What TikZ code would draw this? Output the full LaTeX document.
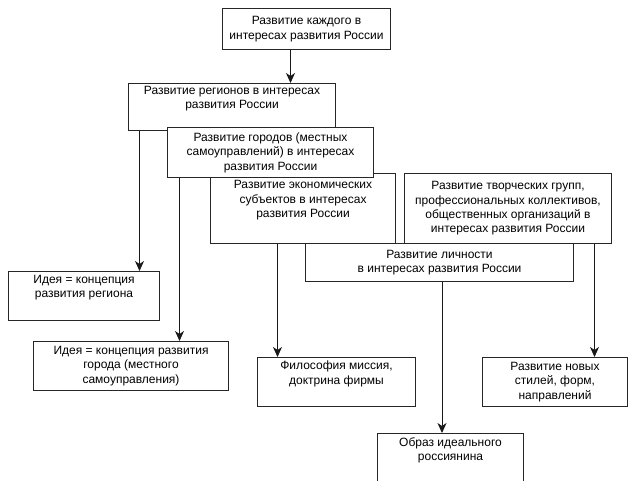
\documentclass[tikz,border=0pt]{standalone}
\usepackage{fontspec}
\setmainfont{Liberation Sans}
\usetikzlibrary{arrows.meta}

\begin{document}
\begin{tikzpicture}[x=1pt,y=-1pt,line width=1pt,
	>={Stealth[length=10pt,width=9pt,inset=3pt]},
	blok/.style={draw=black!85,fill=white,rectangle,anchor=north west,inner sep=0pt,align=center,font=\fontsize{12}{14.4}\selectfont},
	svyaz/.style={->,draw=black!90}]
			\useasboundingbox (0,0) rectangle (628,480);
			\clip (0,0) rectangle (628,480);
			\node[blok,minimum width=168pt,minimum height=41pt] (kazhd)at(222,8) {Развитие каждого в\\интересах развития России};
			\node[blok,minimum width=207pt,minimum height=47pt] (reg)at(128,83) {Развитие регионов в интересах\\развития России\\\strut};
			\node[blok,minimum width=185pt,minimum height=70pt] (ekon)at(210,173) {Развитие экономических\\субъектов в интересах\\развития России\\\strut};
			\node[blok,minimum width=206pt,minimum height=50pt] (gor)at(167,127) {Развитие городов (местных\\самоуправлений) в интересах\\развития России};
			\node[blok,minimum width=207pt,minimum height=70pt] (tvor)at(404,173) {Развитие творческих групп,\\профессиональных коллективов,\\общественных организаций в\\интересах развития России};
			\node[blok,minimum width=268pt,minimum height=38pt] (lich)at(305,243) {Развитие личности\\в интересах развития России};
			\node[blok,minimum width=151pt,minimum height=49pt] (idreg)at(8,271) {Идея = концепция\\развития региона\\\strut};
			\node[blok,minimum width=195pt,minimum height=49pt] (idgor)at(33,341) {Идея = концепция развития\\города (местного\\самоуправления)};
			\node[blok,minimum width=158pt,minimum height=49pt] (filos)at(257,357) {Философия миссия,\\доктрина фирмы\\\strut};
			\node[blok,minimum width=145pt,minimum height=49pt] (stil)at(482,357) {Развитие новых\\стилей, форм,\\направлений};
			\node[blok,minimum width=146pt,minimum height=50pt] (obraz)at(377,433) {Образ идеального\\россиянина\\\strut};
			\draw[svyaz] ([xshift=68.5pt]kazhd.south west) -- ([xshift=68.5pt]kazhd.south west |- reg.north);
			\draw[svyaz] ([xshift=11.5pt]reg.south west) -- ([xshift=11.5pt]reg.south west |- idreg.north);
			\draw[svyaz] ([xshift=12.5pt]gor.south west) -- ([xshift=12.5pt]gor.south west |- idgor.north);
			\draw[svyaz] ([xshift=67.5pt]ekon.south west) -- ([xshift=67.5pt]ekon.south west |- filos.north);
			\draw[svyaz] ([xshift=-17.5pt]tvor.south east) -- ([xshift=-17.5pt]tvor.south east |- stil.north);
			\draw[svyaz] ([xshift=2.5pt]lich.south) -- ([xshift=2.5pt]lich.south |- obraz.north);
		\end{tikzpicture}
\end{document}
